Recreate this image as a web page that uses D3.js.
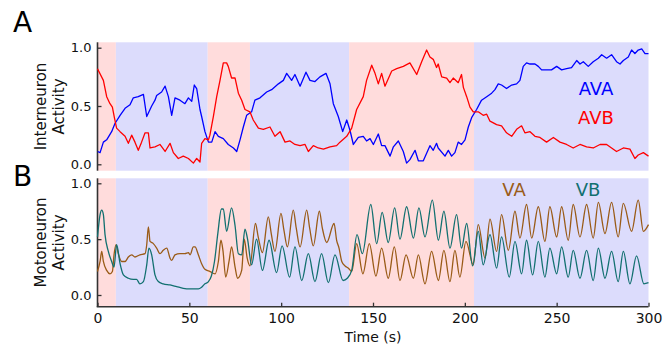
<!DOCTYPE html>
<html>
<head>
<meta charset="utf-8">
<script src="https://cdn.jsdelivr.net/npm/d3@7"></script>
<style>
  body { margin: 0; background: #fff; }
  svg { display: block; font-family: "DejaVu Sans", sans-serif; }
</style>
</head>
<body>
<div id="chart"></div>
<script>
// shaded behaviour epochs: [start, end, state]
const epochs = [
    [0, 10, "rev"], [10, 60, "fwd"], [60, 83, "rev"],
    [83, 137, "fwd"], [137, 205, "rev"], [205, 300, "fwd"]
];

const xTicks = [0, 50, 100, 150, 200, 250, 300];
const yTicks = [0, 0.5, 1.0];

// interneurons (panel A)
const avaTime = [0.1, 1.4, 3.2, 5.0, 7.7, 9.5, 12.3, 15.0, 17.7, 19.5, 22.2, 25.0, 26.8, 29.5, 31.3, 32.2, 34.9, 36.8, 38.6, 40.4,
    42.2, 44.9, 47.6, 49.5, 51.3, 52.7, 54.0, 55.8, 56.7, 58.5, 60.4, 62.2, 64.0, 65.8, 68.5, 71.2, 74.0, 75.8, 77.6, 79.4,
    81.2, 83.9, 85.7, 88.5, 92.1, 94.8, 98.5, 101.2, 103.0, 105.7, 107.5, 110.3, 113.5, 115.7, 118.4, 121.1, 124.4, 126.6, 128.4, 131.1,
    133.5, 135.7, 137.5, 139.3, 142.0, 144.7, 146.5, 148.4, 150.2, 152.9, 154.7, 156.5, 159.3, 161.1, 163.8, 166.5, 168.3, 170.1, 172.9, 174.7,
    177.4, 181.0, 182.8, 184.6, 185.5, 189.2, 191.0, 192.8, 194.6, 196.4, 198.2, 200.1, 201.9, 203.7, 206.4, 209.1, 211.9, 214.6, 216.4, 218.2,
    220.0, 222.7, 225.5, 228.2, 230.0, 231.8, 233.6, 235.5, 238.2, 240.0, 241.8, 244.5, 247.2, 250.0, 252.7, 255.4, 258.1, 260.9, 262.7, 264.5,
    267.2, 269.9, 272.7, 274.5, 277.2, 279.9, 282.6, 284.5, 286.3, 289.0, 290.8, 292.6, 294.4, 296.3, 298.1, 300];
const avaValue = [0.11, 0.10, 0.19, 0.21, 0.28, 0.35, 0.42, 0.48, 0.51, 0.57, 0.58, 0.60, 0.41, 0.50, 0.55, 0.59, 0.62, 0.67, 0.58, 0.42,
    0.57, 0.55, 0.52, 0.57, 0.54, 0.68, 0.65, 0.47, 0.41, 0.28, 0.19, 0.19, 0.28, 0.24, 0.22, 0.17, 0.14, 0.11, 0.21, 0.32,
    0.42, 0.45, 0.55, 0.57, 0.62, 0.64, 0.69, 0.72, 0.78, 0.72, 0.77, 0.67, 0.79, 0.72, 0.71, 0.75, 0.78, 0.69, 0.52, 0.41,
    0.28, 0.38, 0.29, 0.17, 0.23, 0.24, 0.20, 0.22, 0.17, 0.26, 0.16, 0.16, 0.07, 0.15, 0.20, 0.11, 0.01, 0.04, 0.12, 0.03,
    0.03, 0.16, 0.12, 0.18, 0.14, 0.07, 0.12, 0.07, 0.10, 0.19, 0.17, 0.21, 0.32, 0.40, 0.47, 0.55, 0.58, 0.61, 0.64, 0.69,
    0.68, 0.65, 0.68, 0.69, 0.72, 0.84, 0.87, 0.86, 0.86, 0.84, 0.81, 0.81, 0.81, 0.84, 0.81, 0.82, 0.83, 0.89, 0.86, 0.88,
    0.84, 0.88, 0.91, 0.94, 0.91, 0.94, 0.88, 0.86, 0.89, 0.92, 0.98, 0.95, 0.98, 0.99, 0.95, 0.95];

const avbTime = [0, 3.2, 5.0, 6.8, 8.1, 9.2, 10.4, 12.3, 15.0, 16.8, 18.6, 20.4, 22.2, 24.0, 25.9, 27.7, 28.6, 31.3, 34.0, 36.8,
    39.5, 41.3, 44.0, 46.7, 49.5, 52.2, 54.0, 55.8, 56.7, 58.5, 60.4, 61.2, 63.1, 64.9, 66.7, 68.5, 70.3, 71.2, 73.0, 74.9,
    76.7, 78.5, 80.3, 83.0, 84.8, 87.6, 90.3, 93.9, 96.6, 99.4, 102.1, 104.8, 107.5, 110.3, 113.0, 114.8, 117.5, 120.2, 123.0, 126.6,
    130.2, 132.0, 135.7, 138.4, 141.1, 144.7, 146.5, 149.3, 151.1, 152.9, 154.7, 156.5, 160.2, 162.9, 166.5, 170.1, 173.8, 176.5, 179.2, 181.0,
    182.8, 184.6, 185.5, 187.4, 190.1, 191.9, 193.7, 196.4, 198.2, 199.2, 201.0, 202.8, 204.6, 207.3, 210.0, 211.9, 213.7, 217.3, 220.0, 222.7,
    225.5, 228.2, 230.9, 232.7, 235.5, 238.2, 240.9, 244.5, 248.2, 251.8, 255.4, 259.0, 262.7, 266.3, 269.9, 273.6, 277.2, 279.9, 282.6, 286.3,
    289.9, 292.6, 294.4, 297.2, 300];
const avbValue = [0.82, 0.72, 0.58, 0.52, 0.49, 0.40, 0.31, 0.28, 0.24, 0.18, 0.25, 0.19, 0.12, 0.19, 0.27, 0.27, 0.14, 0.15, 0.17, 0.11,
    0.18, 0.10, 0.05, 0.07, 0.05, 0.01, 0.05, 0.02, 0.18, 0.22, 0.21, 0.25, 0.41, 0.58, 0.72, 0.87, 0.87, 0.84, 0.74, 0.74,
    0.61, 0.55, 0.47, 0.45, 0.38, 0.31, 0.30, 0.32, 0.24, 0.28, 0.19, 0.20, 0.17, 0.16, 0.17, 0.11, 0.16, 0.14, 0.13, 0.15,
    0.16, 0.19, 0.24, 0.31, 0.47, 0.58, 0.72, 0.85, 0.78, 0.69, 0.78, 0.67, 0.80, 0.82, 0.84, 0.87, 0.77, 0.88, 0.98, 0.92,
    0.90, 0.83, 0.86, 0.75, 0.74, 0.70, 0.74, 0.70, 0.77, 0.66, 0.58, 0.49, 0.45, 0.45, 0.42, 0.43, 0.37, 0.34, 0.33, 0.27,
    0.24, 0.30, 0.33, 0.27, 0.28, 0.24, 0.23, 0.19, 0.23, 0.19, 0.17, 0.14, 0.17, 0.15, 0.14, 0.17, 0.17, 0.14, 0.11, 0.14,
    0.13, 0.05, 0.08, 0.10, 0.07];

// motoneurons (panel B), peaks and troughs
const vaTime = [0, 1.4, 2.3, 3.2, 5.0, 6.8, 8.1, 9.0, 10.1, 11.3, 13.2, 15.0, 16.8, 18.6, 20.4, 23.1, 25.9, 26.8, 27.7, 28.6,
    30.4, 32.2, 34.0, 35.8, 37.7, 39.5, 40.4, 42.2, 44.9, 47.6, 49.5, 50.4, 52.2, 53.1, 54.9, 56.7, 58.5, 61.3, 64.0, 65.8,
    67.2, 68.3, 69.8, 71.6, 73.0, 74.9, 76.3, 78.5, 79.9, 81.5, 83.0, 86.0, 87.5, 89.8, 93.0, 94.6, 96.6, 99.9, 101.5, 103.4,
    106.6, 108.2, 110.3, 113.9, 115.5, 117.5, 120.8, 122.4, 124.8, 128.8, 130.2, 131.5, 133.0, 134.8, 136.6, 138.4, 141.1, 144.5, 148.0, 151.6,
    154.7, 158.3, 161.6, 164.7, 168.0, 172.0, 174.7, 178.3, 181.9, 185.6, 188.6, 191.9, 194.6, 197.3, 200.6, 204.6, 207.3, 211.0, 213.7, 217.3,
    220.0, 223.7, 227.3, 230.0, 233.6, 236.4, 240.0, 243.6, 246.3, 250.0, 252.7, 256.3, 259.0, 262.7, 266.3, 269.9, 272.7, 276.3, 279.9, 283.5,
    286.3, 290.8, 294.4, 297.2, 300];
const vaValue = [0.21, 0.30, 0.39, 0.30, 0.22, 0.19, 0.21, 0.36, 0.45, 0.37, 0.30, 0.30, 0.34, 0.36, 0.34, 0.36, 0.37, 0.45, 0.61, 0.48,
    0.46, 0.42, 0.37, 0.40, 0.42, 0.33, 0.31, 0.36, 0.37, 0.37, 0.38, 0.36, 0.43, 0.43, 0.36, 0.28, 0.23, 0.21, 0.19, 0.30,
    0.49, 0.40, 0.16, 0.30, 0.43, 0.25, 0.15, 0.22, 0.50, 0.33, 0.26, 0.64, 0.52, 0.38, 0.70, 0.55, 0.39, 0.73, 0.58, 0.43,
    0.76, 0.60, 0.43, 0.76, 0.60, 0.44, 0.75, 0.60, 0.47, 0.64, 0.49, 0.42, 0.30, 0.26, 0.24, 0.21, 0.46, 0.19, 0.46, 0.17,
    0.42, 0.15, 0.43, 0.13, 0.36, 0.15, 0.36, 0.10, 0.39, 0.13, 0.40, 0.12, 0.40, 0.16, 0.48, 0.27, 0.63, 0.33, 0.68, 0.39,
    0.72, 0.40, 0.75, 0.51, 0.81, 0.51, 0.79, 0.48, 0.79, 0.52, 0.79, 0.49, 0.81, 0.52, 0.81, 0.51, 0.83, 0.55, 0.83, 0.52,
    0.82, 0.57, 0.85, 0.57, 0.63];

const vbTime = [0, 1.4, 2.3, 3.2, 4.1, 5.9, 7.7, 9.0, 10.4, 12.3, 14.1, 16.8, 19.5, 21.3, 23.1, 25.0, 26.8, 28.0, 29.5, 31.3,
    33.1, 35.8, 39.5, 43.1, 46.7, 50.4, 54.9, 56.7, 58.5, 60.4, 62.0, 63.7, 65.5, 67.5, 68.5, 70.3, 73.0, 74.9, 76.7, 78.5,
    80.3, 81.7, 83.9, 86.6, 89.8, 93.4, 97.5, 100.5, 104.6, 107.5, 111.2, 114.8, 118.4, 122.0, 125.7, 129.3, 133.7, 136.0, 138.4, 141.3,
    144.2, 148.8, 152.0, 155.0, 158.3, 161.8, 164.7, 168.3, 172.0, 175.0, 178.3, 182.3, 185.6, 188.6, 191.9, 195.5, 198.2, 201.0, 204.2, 207.3,
    210.0, 213.7, 217.3, 220.0, 224.2, 227.3, 230.9, 233.6, 236.9, 240.0, 243.6, 246.3, 250.0, 252.7, 256.3, 259.0, 262.7, 266.3, 269.9, 272.7,
    276.3, 279.9, 283.5, 286.3, 289.9, 293.5, 297.5, 300];
const vbValue = [0.52, 0.72, 0.76, 0.72, 0.54, 0.39, 0.30, 0.25, 0.45, 0.28, 0.18, 0.15, 0.14, 0.14, 0.10, 0.12, 0.27, 0.42, 0.36, 0.18,
    0.12, 0.10, 0.09, 0.075, 0.06, 0.055, 0.055, 0.07, 0.10, 0.12, 0.17, 0.30, 0.55, 0.77, 0.77, 0.57, 0.78, 0.62, 0.37, 0.36,
    0.59, 0.50, 0.27, 0.50, 0.22, 0.49, 0.20, 0.44, 0.16, 0.43, 0.13, 0.37, 0.12, 0.37, 0.11, 0.36, 0.13, 0.15, 0.22, 0.54,
    0.37, 0.81, 0.46, 0.74, 0.47, 0.78, 0.50, 0.79, 0.51, 0.78, 0.52, 0.85, 0.49, 0.75, 0.42, 0.72, 0.42, 0.64, 0.26, 0.57,
    0.27, 0.54, 0.24, 0.52, 0.16, 0.48, 0.19, 0.49, 0.18, 0.48, 0.16, 0.42, 0.19, 0.43, 0.16, 0.40, 0.15, 0.40, 0.13, 0.42,
    0.15, 0.39, 0.12, 0.39, 0.10, 0.35, 0.10, 0.11];

const colors = { fwd: "#dcdcfc", rev: "#ffdcdc", ava: "#0000ff", avb: "#ff0000", va: "#9a5b17", vb: "#127070" };

const width = 664, height = 349;

const svg = d3.select("#chart")
    .append("svg")
    .attr("width", width)
    .attr("height", height);

const x = d3.scaleLinear().domain([0, 300]).range([97.5, 648.5]);

const panels = [
    { top: 42.3, bottom: 170.7, y: d3.scaleLinear().domain([0, 1]).range([164.3, 47.7]), letter: "A",
      label: ["Interneuron", "Activity"], xAxis: false },
    { top: 178.3, bottom: 306.7, y: d3.scaleLinear().domain([0, 1]).range([295, 183.3]), letter: "B",
      label: ["Motoneuron", "Activity"], xAxis: true }
];

panels.forEach(p => {
    const g = svg.append("g");

    g.selectAll(".epoch")
        .data(epochs)
        .enter()
        .append("rect")
        .attr("x", d => x(d[0]))
        .attr("y", p.top)
        .attr("width", d => x(d[1]) - x(d[0]))
        .attr("height", p.bottom - p.top)
        .attr("fill", d => colors[d[2]]);

    const yAxis = g.append("g")
        .attr("transform", `translate(${x(0)},0)`)
        .style("font-size", "13px")
        .style("font-family", "DejaVu Sans")
        .call(d3.axisLeft(p.y).tickValues(yTicks).tickFormat(d3.format(".1f")).tickSizeInner(-4).tickSizeOuter(0).tickPadding(6));
    yAxis.select(".domain").remove();
    yAxis.selectAll("line").attr("stroke", "#333").attr("stroke-width", 1.3);
    yAxis.selectAll("text").attr("fill", "#111");

    g.append("line")
        .attr("x1", x(0)).attr("x2", x(0))
        .attr("y1", p.top).attr("y2", p.bottom)
        .attr("stroke", "#333").attr("stroke-width", 1.6);

    const cx = 50, cy = (p.top + p.bottom) / 2;
    const lab = g.append("text")
        .attr("transform", `translate(${cx},${cy}) rotate(-90)`)
        .attr("text-anchor", "middle")
        .style("font-size", "15px")
        .attr("fill", "#111");
    lab.append("tspan").attr("x", 0).attr("dy", "-0.25em").text(p.label[0]);
    lab.append("tspan").attr("x", 0).attr("dy", "1.15em").text(p.label[1]);

    svg.append("text")
        .attr("x", 13)
        .attr("y", p.letter === "A" ? 32 : 186)
        .style("font-size", "28px")
        .attr("fill", "#000")
        .text(p.letter);

    if (p.xAxis) {
        const xAxis = g.append("g")
            .attr("transform", `translate(0,${p.bottom})`)
            .style("font-size", "14px")
            .style("font-family", "DejaVu Sans")
            .call(d3.axisBottom(x).tickValues(xTicks).tickSizeInner(-4).tickSizeOuter(0).tickPadding(6));
        xAxis.select(".domain").remove();
        xAxis.selectAll("line").attr("stroke", "#333").attr("stroke-width", 1.3);
        xAxis.selectAll("text").attr("fill", "#111");

        g.append("line")
            .attr("x1", x(0) - 0.8).attr("x2", x(300))
            .attr("y1", p.bottom).attr("y2", p.bottom)
            .attr("stroke", "#333").attr("stroke-width", 1.6);

        svg.append("text")
            .attr("x", (x(0) + x(300)) / 2)
            .attr("y", 342)
            .attr("text-anchor", "middle")
            .style("font-size", "14px")
            .attr("fill", "#111")
            .text("Time (s)");
    }
});

function drawSeries(panel, times, values, color, curve) {
    const pts = times.map((t, i) => [t, values[i]]);
    svg.append("path")
        .datum(pts)
        .attr("fill", "none")
        .attr("stroke", color)
        .attr("stroke-width", 1.3)
        .attr("stroke-linejoin", "round")
        .attr("d", d3.line().x(d => x(d[0])).y(d => panel.y(d[1])).curve(curve));
}

drawSeries(panels[0], avaTime, avaValue, colors.ava, d3.curveLinear);
drawSeries(panels[0], avbTime, avbValue, colors.avb, d3.curveLinear);
drawSeries(panels[1], vaTime, vaValue, colors.va, d3.curveMonotoneX);
drawSeries(panels[1], vbTime, vbValue, colors.vb, d3.curveMonotoneX);

// series labels
const legend = [
    { text: "AVA", x: 596, y: 95, color: colors.ava },
    { text: "AVB", x: 596, y: 124, color: colors.avb },
    { text: "VA", x: 514, y: 196, color: colors.va },
    { text: "VB", x: 588, y: 196, color: colors.vb }
];
svg.selectAll(".legend")
    .data(legend)
    .enter()
    .append("text")
    .attr("x", d => d.x)
    .attr("y", d => d.y)
    .attr("text-anchor", "middle")
    .style("font-size", "18px")
    .attr("fill", d => d.color)
    .text(d => d.text);
</script>
</body>
</html>
